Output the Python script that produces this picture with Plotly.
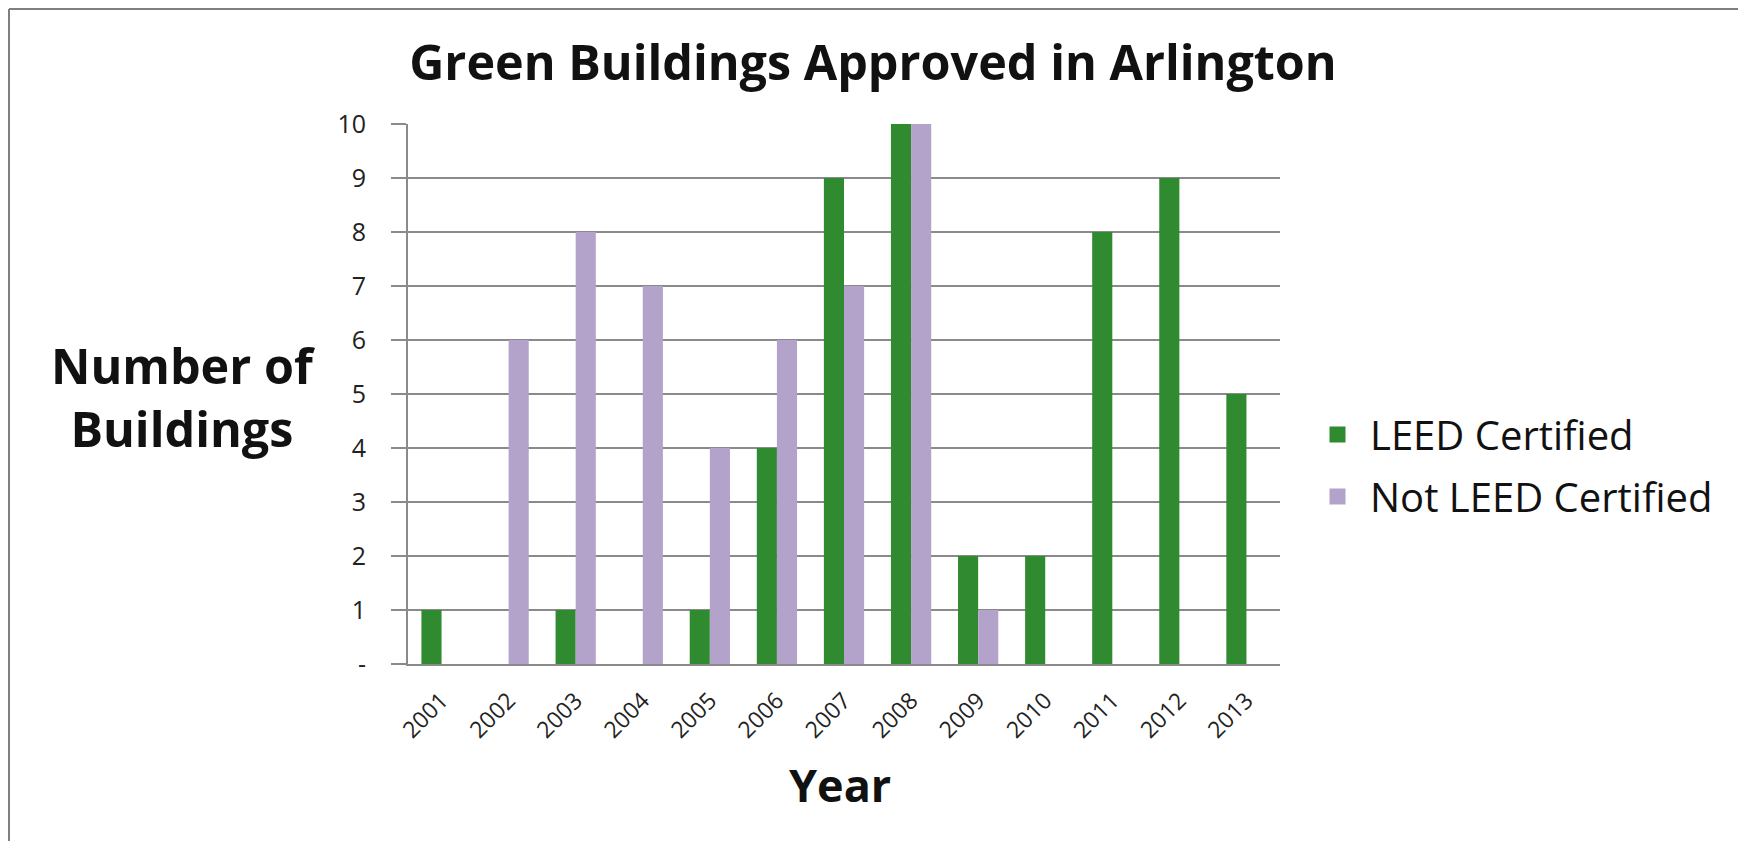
import plotly.graph_objects as go

years = ["2001", "2002", "2003", "2004", "2005", "2006", "2007",
         "2008", "2009", "2010", "2011", "2012", "2013"]
leed = [1, 0, 1, 0, 1, 4, 9, 10, 2, 2, 8, 9, 5]
not_leed = [0, 6, 8, 7, 4, 6, 7, 10, 1, 0, 0, 0, 0]
y_ticks = [0, 1, 2, 3, 4, 5, 6, 7, 8, 9, 10]
y_tick_text = ["-", "1", "2", "3", "4", "5", "6", "7", "8", "9", "10"]

GREEN = "#2F8A30"
PURPLE = "#B3A2C9"
GRID = "#8A8A8A"
FONT = "Open Sans"

W, H = 1738, 841
L, R, T, B = 408, 458, 124, 177
PW, PH = W - L - R, H - T - B

def px_x(p):
    return (p - L) / PW

def px_y(p):
    return (H - B - p) / PH

fig = go.Figure()
fig.add_trace(go.Bar(x=years, y=leed, name="LEED Certified",
                     marker=dict(color=GREEN, line=dict(width=0)),
                     showlegend=False))
fig.add_trace(go.Bar(x=years, y=not_leed, name="Not LEED Certified",
                     marker=dict(color=PURPLE, line=dict(width=0)),
                     showlegend=False))
# legend entries with larger square symbols
fig.add_trace(go.Scatter(x=[None], y=[None], mode="markers", name="LEED Certified",
                         legendgroup="a",
                         marker=dict(symbol="square", size=20, color=GREEN)))
fig.add_trace(go.Scatter(x=[None], y=[None], mode="markers", name="Not LEED Certified",
                         legendgroup="b",
                         marker=dict(symbol="square", size=20, color=PURPLE)))

fig.update_layout(
    width=W, height=H,
    margin=dict(l=L, r=R, t=T, b=B, pad=0),
    paper_bgcolor="white", plot_bgcolor="white",
    barmode="group", bargap=0.4, bargroupgap=0,
    font=dict(family=FONT, color="#111111"),
    title=dict(text="<b>Green Buildings Approved in Arlington</b>",
               x=873 / W, xref="container", xanchor="center",
               y=1 - 63 / H, yref="container", yanchor="middle",
               font=dict(size=48.5, family=FONT, color="#111111")),
    legend=dict(x=px_x(1305), y=px_y(402), xanchor="left", yanchor="top",
                font=dict(size=40, family=FONT, color="#111111"),
                itemsizing="trace", itemwidth=55, tracegroupgap=7,
                traceorder="grouped", bgcolor="rgba(0,0,0,0)"),
    showlegend=True,
)
fig.update_xaxes(type="category", showgrid=False, showline=True, linecolor=GRID,
                 linewidth=2, ticks="", tickangle=-45, ticklabelstandoff=12,
                 tickfont=dict(size=23, family=FONT, color="#222222"))
fig.update_yaxes(range=[0, 10], tickvals=y_ticks, ticktext=y_tick_text,
                 showgrid=True, gridcolor=GRID, gridwidth=1.5,
                 showline=True, linecolor=GRID, linewidth=2,
                 ticks="outside", ticklen=15, tickcolor=GRID, tickwidth=1.5,
                 zeroline=False, ticklabelstandoff=20,
                 tickfont=dict(size=25, family=FONT, color="#222222"))

fig.add_annotation(text="<b>Number of<br>Buildings</b>", xref="paper", yref="paper",
                   x=px_x(183), y=px_y(396), xanchor="center", yanchor="middle",
                   showarrow=False, align="center",
                   font=dict(size=48.5, family=FONT, color="#111111"))
fig.add_annotation(text="<b>Year</b>", xref="paper", yref="paper",
                   x=px_x(840), y=px_y(784), xanchor="center", yanchor="middle",
                   showarrow=False, font=dict(size=45, family=FONT, color="#111111"))

# outer frame: left and top edges only
fig.add_shape(type="line", xref="paper", yref="paper",
              x0=px_x(9), x1=px_x(9), y0=px_y(9), y1=px_y(H + 5),
              line=dict(color="#7F7F7F", width=2))
fig.add_shape(type="line", xref="paper", yref="paper",
              x0=px_x(9), x1=px_x(W + 5), y0=px_y(9), y1=px_y(9),
              line=dict(color="#7F7F7F", width=2))

fig.write_html("out.html")
